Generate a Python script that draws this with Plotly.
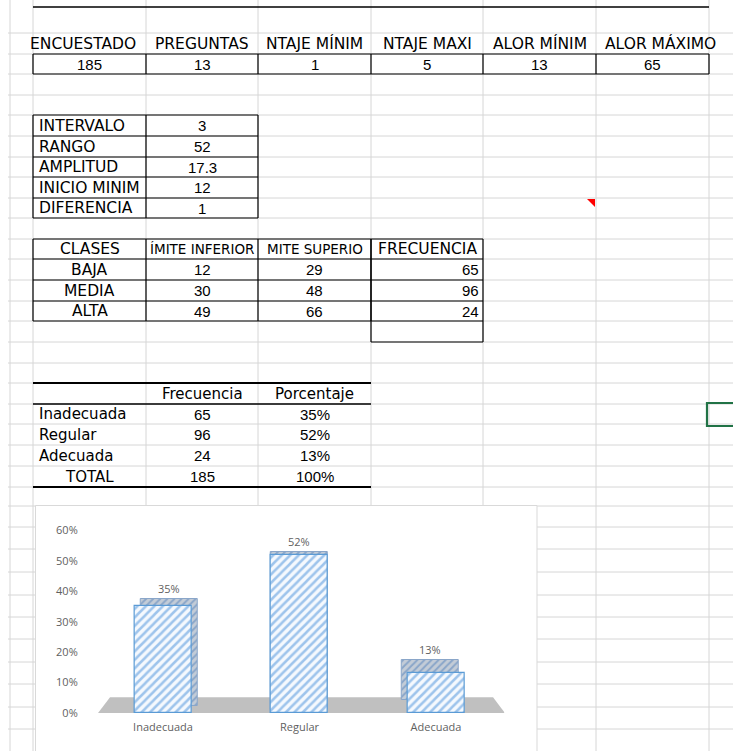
import plotly.graph_objects as go

# ---------------- data (read from the sheet) ----------------
summary_headers = ["ENCUESTADO", "PREGUNTAS", "NTAJE MÍNIM", "NTAJE MAXI", "ALOR MÍNIM", "ALOR MÁXIMO"]
summary_values = ["185", "13", "1", "5", "13", "65"]

param_labels = ["INTERVALO", "RANGO", "AMPLITUD", "INICIO MINIM", "DIFERENCIA"]
param_values = ["3", "52", "17.3", "12", "1"]

class_headers = ["CLASES", "ÍMITE INFERIOR", "MITE SUPERIO", "FRECUENCIA"]
class_names = ["BAJA", "MEDIA", "ALTA"]
class_lower = [12, 30, 49]
class_upper = [29, 48, 66]
class_freq = [65, 96, 24]

table_headers = ["Frecuencia", "Porcentaje"]
levels = ["Inadecuada", "Regular", "Adecuada"]
level_freq = [65, 96, 24]
level_pct = [0.35, 0.52, 0.13]
total_label = "TOTAL"
total_freq = 185
total_pct = 1.00

pct_ticks = [0, 0.1, 0.2, 0.3, 0.4, 0.5, 0.6]

# ---------------- sheet geometry / styles ----------------
W, H = 733, 751
col_edges = [10, 33, 146, 258, 371, 483, 596, 709]
row_edges = [33, 54, 74, 95, 115, 136, 157, 177, 198, 218, 239, 259, 280, 301, 321,
             342, 363, 383, 404, 424, 445, 466, 487, 506, 527, 549, 572, 595, 617,
             639, 662, 684, 707, 729]
COLS = col_edges[1:]          # A..F edges
header_centers = [83, 202, 314.5, 427, 540, 660]

GRID = "#d6d6d6"
INK = "black"
F_UP = dict(family="DejaVu Sans", size=15.5, color=INK)
F_SMALL = dict(family="DejaVu Sans", size=13.5, color=INK)
F_NUM = dict(family="Liberation Sans", size=15, color=INK)
F_LOW = dict(family="DejaVu Sans", size=15, color=INK)
CHART_TXT = "#5f5f5f"

# 3-D look of the bars (style only)
depth = [0.023, 0.010, 0.043]
side_shift = [0.045, 0.0, -0.04]
bar_w = 0.42


def ccx(c):
    return (COLS[c] + COLS[c + 1]) / 2


def rcy(r):
    return (row_edges[r] + row_edges[r + 1]) / 2


shapes = []
annotations = []


def line(x0, y0, x1, y1, color=INK, width=1.2, layer="above"):
    shapes.append(dict(type="line", xref="x", yref="y", x0=x0, y0=y0, x1=x1, y1=y1,
                       line=dict(color=color, width=width), layer=layer))


def box_grid(c0, c1, r0, r1, width=1.2):
    for c in range(c0, c1 + 1):
        line(COLS[c], row_edges[r0], COLS[c], row_edges[r1], width=width)
    for r in range(r0, r1 + 1):
        line(COLS[c0], row_edges[r], COLS[c1], row_edges[r], width=width)


def text(x, y, s, font, anchor="center"):
    annotations.append(dict(xref="x", yref="y", x=x, y=y, text=str(s), showarrow=False,
                            xanchor=anchor, yanchor="middle", font=font))


# spreadsheet gridlines
for x in col_edges:
    line(x, 0, x, H, color=GRID, width=1, layer="below")
for y in row_edges:
    line(8, y, W, y, color=GRID, width=1, layer="below")

# --- summary table ---
line(COLS[0], 7, COLS[6], 7, width=1.6)
box_grid(0, 6, 1, 2)
for i, h in enumerate(summary_headers):
    text(header_centers[i], rcy(0), h, F_UP)
for i, v in enumerate(summary_values):
    text(ccx(i), rcy(1), v, F_NUM)

# --- parameters table ---
box_grid(0, 2, 4, 9)
for i, (lab, val) in enumerate(zip(param_labels, param_values)):
    text(COLS[0] + 4, rcy(4 + i), lab, F_UP, anchor="left")
    text(ccx(1), rcy(4 + i), val, F_NUM)

# --- classes table ---
box_grid(0, 3, 10, 14)
box_grid(3, 4, 10, 15)
text(ccx(0), rcy(10), class_headers[0], F_UP)
text(ccx(1), rcy(10), class_headers[1], F_SMALL)
text(ccx(2), rcy(10), class_headers[2], F_SMALL)
text(ccx(3), rcy(10), class_headers[3], F_UP)
for i in range(len(class_names)):
    text(ccx(0), rcy(11 + i), class_names[i], F_UP)
    text(ccx(1), rcy(11 + i), class_lower[i], F_NUM)
    text(ccx(2), rcy(11 + i), class_upper[i], F_NUM)
    text(COLS[4] - 2, rcy(11 + i), class_freq[i], F_NUM, anchor="right")

# --- frequency / percentage table ---
line(COLS[0], row_edges[17], COLS[3], row_edges[17], width=2)
line(COLS[0], row_edges[18], COLS[3], row_edges[18], width=1.5)
line(COLS[0], row_edges[22], COLS[3], row_edges[22], width=2)
text(ccx(1), rcy(17), table_headers[0], F_LOW)
text(ccx(2), rcy(17), table_headers[1], F_LOW)
for i in range(len(levels)):
    text(COLS[0] + 4, rcy(18 + i), levels[i], F_LOW, anchor="left")
    text(ccx(1), rcy(18 + i), level_freq[i], F_NUM)
    text(ccx(2), rcy(18 + i), f"{round(level_pct[i] * 100)}%", F_NUM)
text(ccx(0), rcy(21), total_label, F_LOW)
text(ccx(1), rcy(21), total_freq, F_NUM)
text(ccx(2), rcy(21), f"{round(total_pct * 100)}%", F_NUM)

# comment marker and selected cell
shapes.append(dict(type="path", xref="x", yref="y", path="M 587,199 L 595,199 L 595,207 Z",
                   fillcolor="#ff0000", line=dict(width=0), layer="above"))
shapes.append(dict(type="rect", xref="x", yref="y", x0=707, y0=403, x1=740, y1=426,
                   line=dict(color="#217346", width=2.2), fillcolor="rgba(0,0,0,0)", layer="above"))

# chart area (white, light border)
shapes.append(dict(type="rect", xref="x", yref="y", x0=35.5, y0=505.5, x1=537, y1=760,
                   fillcolor="white", line=dict(color="#d9d9d9", width=1), layer="below"))
# 3-D floor
shapes.append(dict(type="path", xref="x2", yref="y2",
                   path="M -0.476,0 L 2.505,0 L 2.418,0.052 L -0.388,0.052 Z",
                   fillcolor="#c0c0c0", line=dict(width=0), layer="below"))

# ---------------- figure ----------------
fig = go.Figure()

# extruded (back) faces of the 3-D bars
fig.add_trace(go.Bar(
    x=levels, y=level_pct, base=depth, width=bar_w,
    offset=[-bar_w / 2 + s for s in side_shift],
    xaxis="x2", yaxis="y2",
    marker=dict(color="#b4c1d1", line=dict(color="#8aa6c9", width=1),
                pattern=dict(shape="/", fgcolor="#8aa6c9", bgcolor="#c3ccd7", size=5, solidity=0.4)),
    texttemplate="%{y:.0%}", textposition="outside", cliponaxis=False,
    textfont=dict(family="Open Sans", size=11, color=CHART_TXT),
    hoverinfo="skip", showlegend=False,
))
# front faces
fig.add_trace(go.Bar(
    x=levels, y=level_pct, width=bar_w, xaxis="x2", yaxis="y2",
    marker=dict(color="#f2f7fd", line=dict(color="#5b9bd5", width=1.2),
                pattern=dict(shape="/", fgcolor="#9ec4ec", bgcolor="#f5f9fe", size=6, solidity=0.42)),
    showlegend=False,
))

fig.update_layout(
    template="none",
    width=W, height=H, margin=dict(l=0, r=0, t=0, b=0, pad=0, autoexpand=False),
    paper_bgcolor="white", plot_bgcolor="rgba(0,0,0,0)", showlegend=False,
    barmode="overlay", bargap=0,
    xaxis=dict(range=[0, W], domain=[0, 1], visible=False, fixedrange=True, automargin=False),
    yaxis=dict(range=[H, 0], domain=[0, 1], visible=False, fixedrange=True, automargin=False),
    xaxis2=dict(domain=[94.75 / W, 504.25 / W], anchor="y2", range=[-0.5, 2.5],
                showgrid=False, showline=False, zeroline=False, ticks="", automargin=False,
                tickfont=dict(family="Open Sans", size=11, color=CHART_TXT),
                ticklabelstandoff=6, fixedrange=True),
    yaxis2=dict(domain=[1 - 713 / H, 1 - 530 / H], anchor="x2", range=[0, 0.601],
                tickvals=pct_ticks, tickformat=".0%", showgrid=False, showline=False,
                zeroline=False, ticks="", ticklabelstandoff=16, automargin=False,
                tickfont=dict(family="Open Sans", size=11, color=CHART_TXT), fixedrange=True),
    shapes=shapes, annotations=annotations,
)

fig.write_html("out.html", config={"displayModeBar": False},
               post_script="document.body.style.margin='0';document.body.style.overflow='hidden';")
